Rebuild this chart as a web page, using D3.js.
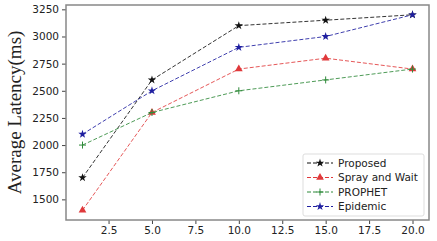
<!DOCTYPE html>
<html>
<head>
<meta charset="utf-8">
<script src="https://cdn.jsdelivr.net/npm/d3@7"></script>
<style>
  body { margin: 0; background: #fff; }
  .axis text { font-family: "DejaVu Sans", sans-serif; font-size: 10.5px; fill: #222; }
</style>
</head>
<body>
<div id="chart"></div>
<script>
// data
const xValues = [1, 5, 10, 15, 20];
const seriesNames = ["Proposed", "Spray and Wait", "PROPHET", "Epidemic"];
const proposed = [1700, 2600, 3100, 3150, 3200];
const sprayWait = [1400, 2300, 2700, 2800, 2700];
const prophet = [2000, 2300, 2500, 2600, 2700];
const epidemic = [2100, 2500, 2900, 3000, 3200];
const xTicks = [2.5, 5.0, 7.5, 10.0, 12.5, 15.0, 17.5, 20.0];
const yTicks = [1500, 1750, 2000, 2250, 2500, 2750, 3000, 3250];

const colors = ["#111111", "#e0393b", "#2f8a3a", "#1f1fa0"];
const markers = ["star", "triangle", "plus", "star"];
const seriesValues = [proposed, sprayWait, prophet, epidemic];

const w = 437, h = 241;
const margin = {top: 5, right: 8, bottom: 21, left: 66};

const x = d3.scaleLinear()
    .domain([0.05, 20.95])
    .range([margin.left, w - margin.right]);

const y = d3.scaleLinear()
    .domain([1310, 3290])
    .range([h - margin.bottom, margin.top]);

const svg = d3.select("#chart")
    .append("svg")
    .attr("width", w)
    .attr("height", h);

// axes
svg.append("g")
    .attr("class", "axis")
    .attr("transform", `translate(0,${h - margin.bottom})`)
    .call(d3.axisBottom(x).tickValues(xTicks).tickFormat(d3.format(".1f")).tickSize(4).tickPadding(3))
    .call(g => g.select(".domain").remove())
    .call(g => g.selectAll(".tick line").attr("stroke", "#444"));

svg.append("g")
    .attr("class", "axis")
    .attr("transform", `translate(${margin.left},0)`)
    .call(d3.axisLeft(y).tickValues(yTicks).tickFormat(d3.format("d")).tickSize(4).tickPadding(3))
    .call(g => g.select(".domain").remove())
    .call(g => g.selectAll(".tick line").attr("stroke", "#444"));

// frame
svg.append("rect")
    .attr("x", margin.left)
    .attr("y", margin.top)
    .attr("width", w - margin.right - margin.left)
    .attr("height", h - margin.bottom - margin.top)
    .attr("fill", "none")
    .attr("stroke", "#888")
    .attr("stroke-width", 1.5);

// y axis title
svg.append("text")
    .attr("transform", "rotate(-90)")
    .attr("x", -(margin.top + (h - margin.bottom)) / 2)
    .attr("y", 21)
    .attr("text-anchor", "middle")
    .style("font-family", "'Liberation Serif', serif")
    .style("font-size", "19px")
    .style("fill", "#222")
    .text("Average Latency(ms)");

const symbolFor = function(m) {
  if (m === "star") return d3.symbol().type(d3.symbolStar).size(22)();
  return d3.symbol().type(d3.symbolTriangle).size(26)();
};

const drawMarker = function(g, m, color, cx, cy) {
  if (m === "plus") {
    g.append("path")
      .attr("d", `M${cx - 3.5},${cy}H${cx + 3.5}M${cx},${cy - 3.5}V${cy + 3.5}`)
      .attr("stroke", color)
      .attr("stroke-width", 1);
  } else {
    g.append("path")
      .attr("d", symbolFor(m))
      .attr("transform", `translate(${cx},${cy})`)
      .attr("fill", color);
  }
};

const line = d3.line()
    .x(d => x(d[0]))
    .y(d => y(d[1]));

// series lines and markers
seriesValues.forEach(function(vals, i) {
  const pts = xValues.map((xv, j) => [xv, vals[j]]);
  const g = svg.append("g");
  g.append("path")
    .datum(pts)
    .attr("d", line)
    .attr("fill", "none")
    .attr("stroke", colors[i])
    .attr("stroke-width", 1)
    .attr("stroke-dasharray", "4,2")
    .attr("opacity", 0.85);
  pts.forEach(p => drawMarker(g, markers[i], colors[i], x(p[0]), y(p[1])));
});

// legend
const legend = svg.append("g");
legend.append("rect")
    .attr("x", 303)
    .attr("y", 154)
    .attr("width", 121)
    .attr("height", 62)
    .attr("rx", 2)
    .attr("fill", "#fff")
    .attr("fill-opacity", 0.85)
    .attr("stroke", "#ddd");

seriesNames.forEach(function(name, i) {
  const ly = 163 + i * 14.5;
  legend.append("line")
    .attr("x1", 307).attr("x2", 333)
    .attr("y1", ly).attr("y2", ly)
    .attr("stroke", colors[i])
    .attr("stroke-width", 1)
    .attr("stroke-dasharray", "4,2");
  drawMarker(legend, markers[i], colors[i], 320, ly);
  legend.append("text")
    .attr("x", 338)
    .attr("y", ly)
    .attr("dy", "0.35em")
    .style("font-family", "'DejaVu Sans', sans-serif")
    .style("font-size", "10.5px")
    .style("fill", "#222")
    .text(name);
});
</script>
</body>
</html>
